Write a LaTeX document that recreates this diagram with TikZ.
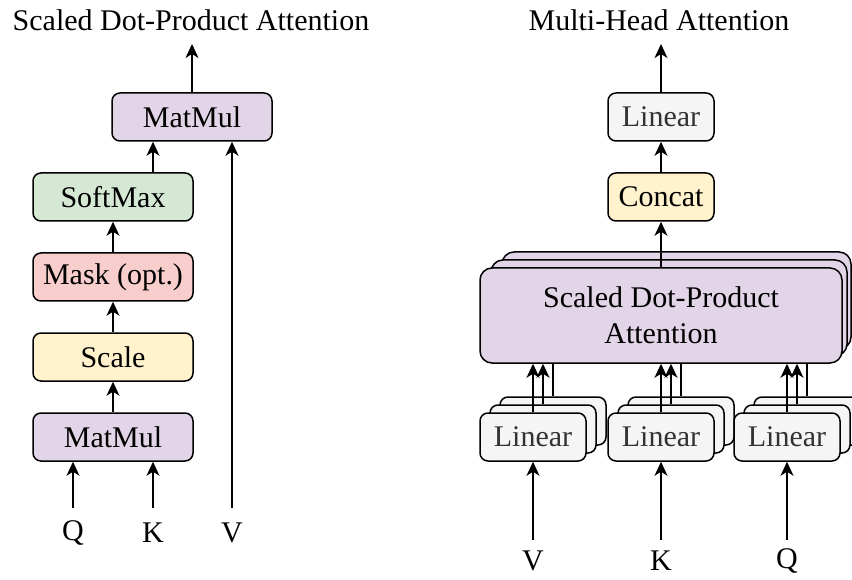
\documentclass[tikz,border=0pt]{standalone}
\usepackage{fontspec}
\setmainfont{Liberation Serif}
\usetikzlibrary{arrows.meta}
\definecolor{cpurple}{HTML}{E1D5E7}
\definecolor{cgreen}{HTML}{D5E8D4}
\definecolor{cred}{HTML}{F8CECC}
\definecolor{cyellow}{HTML}{FFF2CC}
\definecolor{cgray}{HTML}{F5F5F5}
\definecolor{ctext}{HTML}{333333}
\tikzset{
  box/.style={draw=black, line width=1.5pt, rounded corners=8pt, minimum height=48pt,
              inner sep=0pt, font=\fontsize{30}{34}\selectfont},
  wbox/.style={box, minimum width=160pt},
  lin/.style={box, fill=cgray, text=ctext, minimum width=106pt},
  big/.style={draw=black, line width=1.5pt, rounded corners=12pt, fill=cpurple},
  arr/.style={line width=1.5pt, -{Stealth[length=14pt,width=13pt,inset=4pt]}},
  ln/.style={line width=1.5pt},
  lbl/.style={font=\fontsize{30}{34}\selectfont, inner sep=0pt},
}
\begin{document}
\begin{tikzpicture}[x=1pt,y=-1pt]
\useasboundingbox (0,0) rectangle (852,580);

% ---------- Scaled Dot-Product Attention ----------
\node[lbl] (t1) at (191,20) {Scaled Dot-Product Attention};
\node[wbox, fill=cpurple] (mm1) at (113,437) {MatMul};
\node[wbox, fill=cyellow] (sc) at (113,357) {Scale};
\node[wbox, fill=cred] (mk) at (113,277) {Mask (opt.)};
\node[wbox, fill=cgreen] (sm) at (113,197) {SoftMax};
\node[wbox, fill=cpurple] (mm2) at (192,117) {MatMul};

\coordinate (qin) at (73,508);
\coordinate (kin) at (153,508);
\coordinate (vin) at (232,508);
\coordinate (out1) at (192,44);
\node[lbl] (q) at (73,533) {Q};
\node[lbl] (k) at (153,533) {K};
\node[lbl] (v) at (232,533) {V};

\draw[arr] (qin) -- (qin |- mm1.south);
\draw[arr] (kin) -- (kin |- mm1.south);
\draw[arr] (vin) -- (vin |- mm2.south);
\draw[arr] (mm1.north) -- (sc.south);
\draw[arr] (sc.north) -- (mk.south);
\draw[arr] (mk.north) -- (sm.south);
\draw[arr] ([xshift=40pt]sm.north) -- ([xshift=40pt]sm.north |- mm2.south);
\draw[arr] (mm2.north) -- (out1);

% ---------- Multi-Head Attention ----------
\node[lbl] (t2) at (659,20) {Multi-Head Attention};

% stacked attention heads (back to front)
\draw[big] (502,252) rectangle (851,349);
\draw[big] (491,260) rectangle (847,356);
\node[big, minimum width=362pt, minimum height=95pt, inner sep=0pt, align=center,
      font=\fontsize{30}{36}\selectfont] (sdpa) at (661,315.5)
      {Scaled Dot-Product\\Attention};

\node[box, fill=cyellow, minimum width=106pt] (cc) at (661,197) {Concat};
\node[lin] (lt) at (661,117) {Linear};
\coordinate (out2) at (661,44);

% three stacks of linear projections
\foreach \n/\x in {a/533, b/661, c/787}{
  \node[lin] (\n3) at (\x+20,421) {\phantom{Linear}};
  \node[lin] (\n2) at (\x+10,429) {\phantom{Linear}};
  \node[lin] (\n1) at (\x,437) {Linear};
}

\foreach \n in {a,b,c}{
  \draw[arr] (\n1.north) -- (\n1.north |- sdpa.south);
  \draw[arr] (\n2.north) -- (\n2.north |- sdpa.south);
  \draw[ln] (\n3.north) -- (\n3.north |- sdpa.south);
}

\draw[arr] (sdpa.north) -- (cc.south);
\draw[arr] (cc.north) -- (lt.south);
\draw[arr] (lt.north) -- (out2);

\coordinate (vin2) at (533,540);
\coordinate (kin2) at (661,540);
\coordinate (qin2) at (787,540);
\node[lbl] (v2) at (533,561) {V};
\node[lbl] (k2) at (661,561) {K};
\node[lbl] (q2) at (787,561) {Q};
\draw[arr] (vin2) -- (vin2 |- a1.south);
\draw[arr] (kin2) -- (kin2 |- b1.south);
\draw[arr] (qin2) -- (qin2 |- c1.south);
\end{tikzpicture}
\end{document}
